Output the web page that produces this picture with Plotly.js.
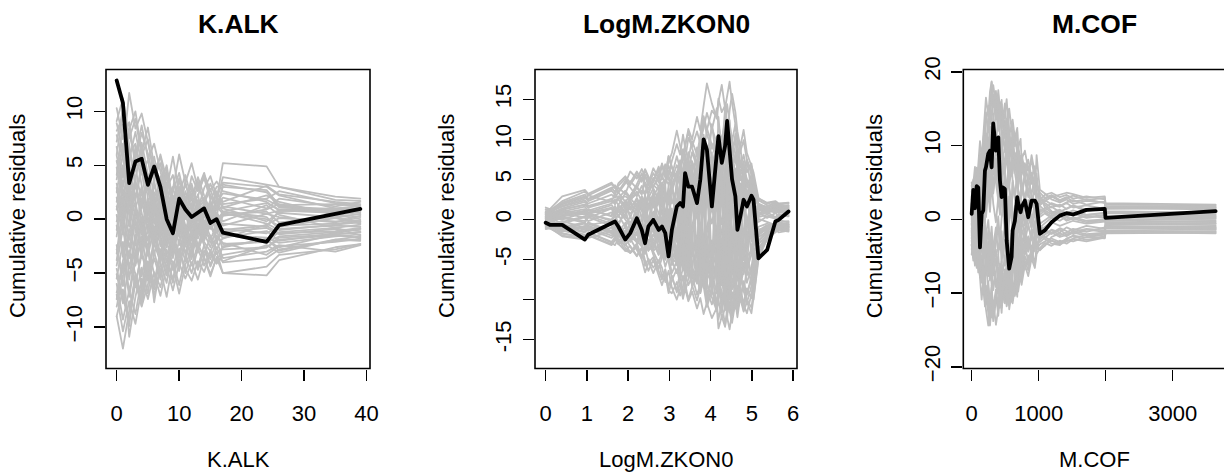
<!DOCTYPE html>
<html>
<head>
<meta charset="utf-8">
<script src="https://cdn.plot.ly/plotly-3.0.1.min.js"></script>
<style>
  html, body { margin: 0; padding: 0; background: #fff; }
  #chart { width: 1224px; height: 476px; }
  #chart path.js-line { stroke-linejoin: round !important; stroke-linecap: round !important; }
</style>
</head>
<body>
<div id="chart"></div>
<script>
// ---------- K.ALK ----------
const kalkX = [0,1,2,3,4,5,6,7,8,9,10,11,12,13,14,15,16,17,24,26,35,39];
const kalkObserved = [12.86,10.78,3.34,5.35,5.6,3.18,4.88,3.0,0.0,-1.3,1.9,0.9,0.2,0.6,1.0,-0.35,0.0,-1.25,-2.1,-0.54,0.5,0.95];
const kalkSimulated = [
  [8.2,9.5,6.1,7.0,4.2,5.5,2.1,3.0,0.8,2.2,0.5,1.8,3.1,1.2,2.0,0.6,1.5,2.4,1.8,1.2,0.9,0.7],
  [-5.1,-7.8,-4.2,-6.0,-3.3,-5.1,-2.2,-4.0,-1.5,-3.2,-0.8,-2.5,-1.0,-2.8,-1.4,-0.3,-1.9,-1.2,-0.8,-1.4,-0.9,-1.1],
  [2.5,6.1,11.7,8.4,9.8,7.2,4.5,5.8,2.9,4.1,1.2,3.5,0.7,2.3,-0.5,1.4,0.2,3.4,3.0,2.2,1.0,1.2],
  [-9.0,-12.0,-8.5,-5.2,-7.1,-3.9,-6.0,-2.8,-4.5,-1.7,-3.6,-1.0,-2.9,-0.4,-2.1,-3.0,-1.6,-2.2,-3.3,-2.5,-2.1,-1.8],
  [10.3,7.4,9.0,4.8,6.5,2.7,5.1,1.3,3.4,-0.6,1.9,-1.3,0.6,-0.8,1.7,0.1,-1.1,0.3,0.9,1.4,0.5,0.2],
  [0.4,-3.5,1.8,-2.4,2.9,-1.1,3.6,0.5,-2.2,1.3,-0.9,2.6,0.8,3.4,1.5,2.8,0.9,1.1,2.2,1.6,0.4,0.0],
  [-3.2,1.5,-5.6,-1.8,-6.4,-2.6,-7.7,-4.1,-5.9,-2.3,-4.8,-1.5,-3.7,-0.9,-2.4,-4.4,-3.0,-5.0,-5.2,-3.8,-2.6,-2.3],
  [6.7,3.9,8.3,10.0,6.2,8.5,4.9,3.2,5.0,1.6,3.8,0.4,2.2,-1.0,0.7,-0.6,1.2,0.5,0.0,-0.6,-0.4,-0.2],
  [-7.4,-4.0,-10.9,-7.2,-4.5,-6.9,-3.0,-5.3,-1.2,-3.6,0.2,-1.9,-3.2,-0.7,-1.8,0.4,-0.5,-1.4,-2.0,-1.2,-0.8,-1.5],
  [4.1,8.8,5.2,2.0,4.6,0.3,2.5,-1.8,0.9,-2.9,-0.4,-3.3,-1.5,-2.7,-0.2,-1.6,-3.2,-2.6,-1.8,-2.9,-1.9,-2.0],
  [-1.6,2.8,-0.7,3.3,0.6,-2.8,1.4,-1.6,2.7,5.8,2.4,4.1,1.9,3.9,2.2,0.8,2.5,1.6,3.1,2.3,1.6,1.4],
  [9.1,11.2,7.5,9.3,5.9,7.4,3.8,5.2,2.1,0.1,2.9,1.1,4.0,2.6,3.8,1.8,3.0,3.2,2.5,1.1,0.8,1.0],
  [-6.0,-9.3,-6.6,-8.8,-5.5,-7.4,-4.9,-6.3,-3.7,-5.9,-2.9,-4.6,-5.7,-3.9,-4.9,-3.2,-4.1,-3.3,-2.6,-1.9,-1.5,-1.7],
  [1.2,-1.4,4.5,1.7,5.3,2.6,0.1,-2.5,0.6,-1.4,1.6,-0.6,-2.0,0.5,-1.1,1.3,0.5,-0.6,0.5,0.2,-0.3,0.3],
  [5.4,2.3,0.5,3.8,-0.6,1.7,-1.9,2.0,-0.4,2.6,4.3,1.8,3.3,0.9,2.9,4.0,2.1,1.0,-0.2,0.6,0.2,0.5],
  [-4.3,-0.8,-3.6,0.9,-2.6,1.9,-1.2,2.4,0.7,-1.1,1.4,3.2,1.7,2.1,4.1,2.7,3.5,2.6,1.6,0.8,0.9,0.6],
  [7.8,5.6,2.7,5.9,8.7,5.6,7.0,4.4,1.9,3.0,0.6,2.1,-0.4,1.5,-1.5,-0.1,-2.2,-0.9,-1.3,-0.7,0.1,-0.4],
  [-2.4,-6.2,-2.9,-5.1,-8.0,-4.6,-6.5,-3.4,-2.0,-4.3,-6.9,-4.2,-2.8,-4.7,-2.9,-4.2,-2.6,-4.0,-3.6,-2.8,-2.0,-1.9],
  [3.3,0.2,-2.6,-0.2,-3.5,-0.9,2.2,-0.5,1.6,-1.8,0.4,-1.7,-0.3,1.8,0.4,-0.9,1.0,2.0,1.0,1.9,1.2,1.6],
  [-8.1,-5.2,-3.0,-6.3,-2.8,-5.7,-1.5,-3.9,-0.6,-2.5,-4.2,-2.0,-0.3,-2.4,-3.5,-1.5,-2.8,-1.7,-1.1,-2.0,-1.3,-0.9],
  [0.9,4.4,1.6,6.8,3.1,0.6,3.2,1.0,4.6,2.0,0.1,1.7,0.1,-1.2,0.9,-0.5,1.7,3.9,3.2,3.0,1.8,1.7],
  [-0.6,-2.9,-7.2,-3.7,-0.4,-3.0,0.8,-1.3,1.9,-0.1,2.5,0.0,1.5,-1.4,0.3,1.8,-0.2,0.7,0.2,-0.9,-0.6,-0.7],
  [6.0,9.8,6.9,3.6,7.1,4.3,1.2,4.0,1.0,-1.2,1.6,-1.0,0.9,-0.7,-2.0,-0.5,0.6,-0.2,1.3,0.4,-0.8,-0.5],
  [-3.8,0.4,3.4,0.0,-2.9,0.2,-3.3,-0.6,-3.4,-5.6,-2.7,-5.0,-3.0,-4.4,-2.4,-3.7,-2.0,-3.6,-3.0,-2.4,-3.0,-2.4],
  [2.0,-0.6,2.8,-1.2,1.5,3.9,0.9,3.2,0.3,2.8,6.0,3.4,5.2,2.8,4.3,2.2,1.1,3.0,2.7,1.3,1.4,1.2],
  [-5.5,-2.1,-6.8,-3.4,0.2,-2.0,1.3,-1.9,-4.0,-1.1,-3.5,-0.8,-2.5,0.2,-1.3,-2.6,-0.8,0.4,0.7,-0.3,0.2,-0.2],
  [4.8,1.4,5.5,8.1,5.0,2.0,-0.4,1.8,-1.1,0.7,-1.6,0.9,2.4,0.3,1.3,-0.7,-1.6,-2.3,-2.1,-1.6,-1.2,-0.9],
  [-1.0,3.6,0.4,-4.1,-1.6,-4.9,-2.3,0.4,-2.6,-0.8,1.0,-1.6,0.5,-1.8,-0.3,-2.2,-1.2,-0.4,-0.7,0.8,0.6,0.8],
  [8.9,6.3,3.2,1.0,3.0,0.1,-2.4,0.9,-1.9,1.2,-1.2,1.6,-0.9,0.8,-0.5,1.0,2.6,1.4,1.9,2.6,1.5,1.3],
  [-7.0,-10.4,-7.6,-9.7,-6.4,-4.0,-6.2,-3.1,-5.2,-2.1,-4.0,-2.3,-4.3,-2.3,-3.6,-5.3,-3.5,-3.9,-2.4,-3.1,-1.9,-1.6],
  [3.7,7.0,3.9,1.6,-1.4,1.0,-1.0,-3.2,-0.2,1.8,-0.6,1.2,-1.3,0.1,-1.5,-0.6,-1.7,-1.0,-0.6,-1.3,-1.1,-0.8],
  [-2.8,-5.0,-1.4,-4.3,-1.8,1.2,-1.6,1.5,-1.7,0.6,-1.5,-3.1,-1.4,-2.6,-0.6,0.3,-1.0,-2.8,-2.6,-1.7,-1.4,-1.2],
  [5.9,3.0,6.4,3.2,1.0,3.6,5.8,2.7,4.3,1.5,3.0,0.7,2.0,3.5,1.4,0.6,1.6,0.7,1.5,0.9,1.0,0.9],
  [-4.6,-7.3,-9.4,-5.9,-8.1,-6.0,-3.6,-5.6,-2.8,-4.7,-1.9,-3.9,-1.2,-3.1,-1.0,-1.9,-0.5,0.6,-0.4,-1.0,-0.5,-0.3],
  [1.6,5.0,2.2,4.9,1.4,3.4,0.3,2.3,-0.9,-2.6,-0.3,-2.2,0.4,-1.4,0.6,1.5,-0.6,-1.5,-1.7,-2.2,-1.6,-1.4],
  [-0.2,2.0,-1.9,1.0,-0.8,-3.4,-0.7,-3.6,-1.0,1.0,2.2,0.5,2.8,1.0,1.7,3.3,1.8,5.2,4.9,3.0,2.1,1.9],
  [7.2,10.2,7.9,5.6,8.0,6.1,3.5,6.0,3.7,1.4,3.6,1.6,-0.1,1.4,-0.3,0.8,-0.8,-1.8,-0.5,0.1,-0.2,-0.1],
  [-6.8,-3.7,-0.9,-3.0,-5.3,-2.4,-5.1,-7.1,-4.4,-6.6,-4.1,-5.5,-4.0,-5.6,-3.5,-5.1,-3.6,-5.0,-4.4,-3.3,-2.8,-2.3],
  [2.9,-0.9,-4.5,-1.7,1.9,-1.3,1.7,-1.0,2.9,0.4,-2.4,0.5,-1.6,0.9,-0.9,0.1,2.0,1.2,0.5,0.8,0.7,0.4],
  [-9.0,-6.5,-9.9,-5.0,-7.5,-4.8,-7.0,-4.6,-7.2,-3.9,-6.1,-3.4,-5.0,-2.7,-4.3,-2.9,-4.1,-2.5,-2.0,-2.6,-1.4,-1.2]
];
const kalkXTicks = [0,10,20,30,40];
const kalkYTicks = [-10,-5,0,5,10];

// ---------- LogM.ZKON0 ----------
const zkonX = [0,0.1,0.4,0.95,1.03,1.6,1.68,1.76,1.93,2.05,2.21,2.33,2.41,2.49,2.61,2.74,2.82,2.9,2.98,3.06,
  3.18,3.26,3.33,3.38,3.46,3.55,3.67,3.75,3.83,3.91,4.03,4.15,4.19,4.27,4.35,4.4,4.46,4.52,4.6,4.65,
  4.72,4.8,4.88,4.99,5.04,5.16,5.37,5.57,5.65,5.89];
const zkonObserved = [-0.4,-0.66,-0.66,-2.5,-1.9,-0.45,-0.25,-0.87,-2.5,-1.7,0.17,-1.3,-2.96,-0.87,-0.04,-1.3,-0.87,-1.7,-4.6,-1.3,
  1.63,2.05,1.63,5.8,4.1,4.1,2.05,5.0,10.0,8.7,1.63,8.3,10.4,7.07,9.15,12.3,7.9,5.0,2.9,-1.3,
  0.37,2.47,1.63,2.97,2.47,-4.84,-3.8,-0.25,-0.04,1.0];
const zkonSimulated = [
  [0.8,1.0,1.6,2.4,2.0,3.1,2.7,3.4,2.2,3.0, 4.1,3.3,4.6,3.8,5.2,4.0,5.5,4.4,6.1,5.0, 6.8,5.9,7.5,8.9,7.6,9.8,8.1,10.7,12.9,11.2, 13.6,12.8,15.1,13.4,14.2,12.0,11.5,9.8,8.2,6.1, 7.0,5.2,4.1,3.6,2.0,1.2,0.9,1.6,1.3,1.8],
  [-0.7,-0.9,-1.4,-2.0,-1.6,-2.8,-2.2,-3.0,-3.9,-3.3, -4.5,-3.6,-5.8,-4.9,-6.0,-5.1,-7.2,-6.3,-8.4,-7.0, -9.1,-8.0,-9.9,-8.6,-10.2,-9.0,-11.1,-9.8,-11.8,-10.4, -12.3,-11.0,-13.6,-12.1,-13.4,-11.7,-10.3,-11.6,-9.5,-10.9, -9.2,-10.4,-8.7,-9.8,-7.5,-3.6,-2.1,-1.3,-0.9,-0.6],
  [1.2,1.1,2.3,3.5,3.0,4.4,3.9,4.2,5.1,4.3, 5.6,4.7,6.2,5.0,4.1,5.3,3.8,4.9,6.7,5.5, 7.9,6.3,8.8,7.4,10.2,9.1,11.0,9.5,12.4,10.6, 8.9,10.3,8.1,9.6,7.2,8.5,6.4,7.7,5.9,6.8, 4.9,6.0,4.3,5.5,3.7,2.6,2.1,2.3,2.0,2.1],
  [-1.0,-1.1,-2.0,-2.4,-1.9,-3.1,-2.6,-1.8,-3.5,-4.2, -3.4,-5.0,-6.6,-5.4,-4.7,-6.3,-7.5,-6.2,-8.9,-9.2, -7.8,-9.5,-8.3,-6.9,-8.2,-7.0,-9.4,-8.1,-6.6,-8.0, -9.7,-11.4,-10.0,-12.3,-11.1,-9.6,-10.8,-12.0,-10.5,-11.2, -9.9,-11.5,-10.3,-11.7,-9.8,-4.6,-2.5,-1.6,-1.2,-0.8],
  [0.3,0.2,0.8,1.3,0.9,1.8,1.2,0.5,1.5,0.7, 2.0,1.1,-0.2,1.4,2.5,0.8,-0.6,1.2,-1.9,0.1, 2.3,0.4,3.1,1.6,-0.8,1.9,3.8,1.0,4.6,2.2, -0.5,2.8,5.1,3.0,6.3,3.9,1.4,4.0,0.6,2.7, -1.3,1.5,-0.2,2.2,0.4,0.9,0.2,0.8,0.5,0.9],
  [-0.3,-0.5,-0.6,-1.2,-0.7,-0.2,-1.0,-1.6,-0.4,-2.1, -1.0,-2.7,-1.4,-3.2,-2.0,-0.9,-2.8,-4.3,-2.6,-5.0, -3.4,-1.2,-4.1,-2.5,-5.6,-3.3,-6.8,-4.0,-7.5,-5.2, -2.6,-5.0,-7.9,-4.8,-8.6,-6.1,-3.3,-6.6,-4.0,-7.2, -5.1,-3.0,-6.2,-4.4,-2.7,-1.4,-0.7,-1.1,-0.6,-0.4],
  [0.6,0.7,1.2,1.9,1.5,2.6,2.0,2.9,1.6,2.4, 3.5,2.3,1.1,2.7,3.9,2.4,4.6,3.1,2.0,3.8, 5.5,4.2,6.3,7.8,6.0,8.4,6.5,9.6,7.7,11.4, 9.3,7.5,10.1,8.0,10.9,12.5,10.2,8.4,10.0,7.6, 5.8,7.1,4.9,3.3,4.4,1.6,1.4,1.9,1.5,1.3],
  [-0.5,-0.4,-1.0,-1.6,-1.2,-2.3,-1.7,-2.6,-3.2,-2.4, -3.8,-4.9,-3.9,-2.6,-4.0,-5.4,-4.1,-5.9,-4.6,-6.7, -5.2,-7.6,-6.0,-4.6,-6.3,-8.1,-6.7,-9.0,-7.1,-5.6, -7.9,-6.2,-8.8,-10.3,-7.6,-9.4,-11.6,-9.1,-10.7,-8.3, -10.1,-7.7,-9.4,-7.0,-8.6,-3.9,-1.8,-1.4,-1.0,-1.2],
  [1.5,1.3,2.9,3.7,3.2,4.6,4.0,3.3,4.5,6.0, 5.1,6.3,5.4,4.2,5.8,4.6,6.9,5.2,7.9,6.4, 5.0,6.7,4.8,6.2,8.4,6.9,5.3,7.6,5.8,8.8, 6.4,9.7,7.2,5.6,8.1,6.0,7.9,5.5,4.0,5.7, 3.6,5.2,3.1,4.6,2.9,1.8,1.6,2.2,1.8,1.5],
  [-1.1,-1.0,-2.1,-2.5,-2.0,-3.2,-2.5,-1.7,-3.0,-4.1, -3.1,-1.9,-3.6,-2.5,-4.4,-6.1,-4.8,-3.5,-5.3,-7.3, -8.8,-6.5,-9.7,-7.9,-10.0,-8.4,-7.0,-9.2,-7.4,-10.5, -8.5,-11.3,-9.1,-7.5,-9.8,-8.0,-6.4,-8.7,-6.9,-5.0, -7.3,-5.4,-7.9,-6.0,-4.2,-2.2,-1.5,-0.8,-0.5,-0.9],
  [0.1,0.3,0.4,0.7,1.2,0.5,1.6,0.9,2.4,1.5, 0.6,1.9,3.0,1.7,0.4,2.3,1.0,-0.5,1.3,-0.9, 0.8,-1.6,0.5,2.1,-0.3,2.6,0.6,-1.8,1.4,3.5, 1.0,4.4,2.0,-0.6,2.7,0.3,3.3,1.1,-1.5,1.3, -0.7,1.8,0.0,-2.2,0.6,-0.3,0.4,0.1,0.3,0.6],
  [-0.9,-0.8,-1.7,-2.3,-1.8,-1.0,-1.9,-2.8,-1.5,-0.6, -2.0,-0.8,-2.9,-1.5,-0.3,-2.2,-3.6,-1.9,-0.5,-2.8, -1.1,-3.5,-1.6,-0.2,-2.7,-4.3,-2.0,-5.1,-3.0,-0.9, -3.9,-1.5,-4.7,-2.4,-5.6,-3.1,-6.4,-3.8,-1.6,-4.3, -2.2,-4.8,-3.0,-1.1,-3.4,-1.7,-1.2,-0.6,-0.8,-1.0],
  [0.9,0.8,1.9,2.8,2.3,3.6,3.1,4.0,3.2,4.8, 3.9,5.3,4.3,3.3,4.7,6.2,5.0,6.8,5.6,7.3, 9.4,8.1,10.6,9.0,11.3,10.0,12.8,11.1,14.2,17.0, 14.5,12.6,14.7,16.8,13.9,15.5,17.2,14.6,11.8,10.2, 8.5,9.9,7.4,6.1,4.5,2.0,1.5,1.2,1.7,1.4],
  [-0.2,-0.3,0.2,-0.4,0.3,-0.8,-0.1,0.6,-0.9,0.4, -1.3,0.1,-2.0,-0.7,1.0,-0.5,-2.3,-1.0,0.8,-1.6, -3.9,-2.1,-4.8,-3.0,-1.0,-3.6,-5.7,-3.3,-6.5,-4.0, -6.8,-9.2,-7.0,-10.1,-8.0,-12.2,-13.7,-11.5,-9.0,-11.0, -8.4,-10.6,-11.7,-9.3,-10.0,-5.0,-2.3,-1.5,-1.1,-1.3],
  [0.4,0.5,1.0,1.6,1.1,2.0,2.5,1.8,3.3,2.6, 4.0,3.1,5.6,4.5,6.4,5.2,7.0,5.6,7.9,6.5, 4.7,6.2,3.8,5.4,7.5,5.8,4.1,6.3,8.9,6.9, 4.8,7.4,5.1,3.2,5.6,3.7,2.1,4.4,6.3,4.2, 2.8,4.6,3.0,5.0,3.4,1.9,1.0,1.4,1.1,0.8],
  [-0.6,-0.7,-1.3,-1.0,-0.5,-1.7,-1.1,-0.6,-2.0,-1.2, -2.6,-3.4,-2.1,-3.9,-2.9,-4.4,-3.2,-5.0,-3.7,-2.4, -4.1,-5.5,-3.6,-2.2,-4.0,-2.6,-4.5,-6.2,-4.1,-6.9, -5.0,-7.7,-9.6,-7.3,-10.2,-8.1,-11.4,-12.9,-10.3,-12.2, -9.6,-8.0,-10.0,-11.0,-9.1,-4.4,-2.0,-1.0,-0.7,-0.5],
  [1.3,1.2,2.0,2.9,2.5,3.8,4.3,3.5,4.8,4.0, 2.9,4.2,3.2,5.0,3.7,2.5,4.1,2.8,3.6,2.0, 3.7,2.1,4.6,6.9,5.1,7.3,5.4,3.6,6.0,4.3, 7.5,5.5,3.8,6.1,4.4,7.8,6.0,9.3,7.1,8.8, 6.5,8.1,5.9,7.0,5.3,2.4,1.8,1.5,1.9,2.0],
  [-0.4,-0.5,-0.3,0.4,0.8,-0.2,0.5,1.1,0.0,-0.9, 0.7,-1.0,-2.4,-1.1,-3.0,-4.2,-2.8,-1.3,-3.4,-5.1, -6.7,-4.8,-3.2,-5.5,-4.0,-6.5,-8.0,-6.1,-4.5,-2.8, -5.0,-3.1,-1.4,-3.7,-6.0,-4.2,-2.5,-5.3,-7.7,-5.6, -8.2,-6.4,-4.2,-6.9,-5.0,-2.7,-1.7,-1.3,-1.6,-1.4],
  [0.0,0.2,-0.5,0.3,-0.2,0.9,0.3,-0.4,0.7,1.6, 2.4,1.2,0.5,1.9,3.2,2.0,0.7,2.3,3.7,2.5, 1.0,3.4,5.1,3.3,1.8,4.6,2.9,5.7,8.0,6.2, 9.5,7.6,5.3,7.9,10.8,8.7,6.2,8.4,5.5,3.4, 5.7,3.8,1.9,3.9,2.2,0.5,0.9,0.3,0.7,0.5],
  [-1.2,-1.1,-1.8,-2.2,-1.6,-2.9,-3.2,-2.4,-3.9,-4.1, -3.0,-4.6,-3.5,-5.2,-6.7,-5.1,-6.0,-7.8,-6.4,-8.5, -10.0,-8.6,-7.0,-9.1,-7.4,-5.9,-7.8,-6.0,-8.3,-10.9, -8.9,-10.6,-12.5,-10.4,-13.2,-11.0,-9.0,-11.1,-11.0,-11.4, -9.5,-11.0,-9.2,-7.6,-6.4,-3.1,-1.9,-1.6,-1.3,-1.1],
  [0.7,0.6,1.4,2.2,1.7,2.5,1.9,2.7,3.6,2.8, 1.6,2.9,1.8,3.1,2.1,3.4,2.3,1.0,2.6,4.3, 6.0,4.4,2.7,4.9,6.6,4.7,3.0,1.3,3.5,5.4, 3.2,1.1,3.6,1.9,4.0,6.4,4.3,2.2,0.4,2.5, 0.9,2.9,4.5,2.6,0.9,0.6,1.2,1.6,1.2,1.1],
  [-0.1,0.0,-0.8,-1.5,-1.0,-2.0,-1.4,-0.6,-1.7,-2.6, -1.5,-3.0,-4.3,-3.1,-1.8,-3.3,-4.7,-3.3,-1.9,-0.4, -2.3,-0.6,1.1,-0.8,-2.6,-0.7,1.4,-0.5,-2.9,-0.9, 1.5,-1.2,-3.6,-1.4,0.9,-1.6,-4.1,-2.0,0.6,-1.9, -4.2,-2.3,-0.1,-2.7,-1.0,0.1,-0.3,-0.7,-0.4,-0.2],
  [0.5,0.4,0.9,0.2,0.8,1.5,0.6,1.4,2.2,1.2, 2.7,1.5,0.1,1.6,2.9,4.1,2.6,4.4,5.5,3.9, 2.2,4.0,5.9,7.3,5.4,3.7,5.8,8.4,10.3,8.0, 11.6,9.3,7.1,9.7,12.0,14.4,12.1,9.8,11.9,9.4, 7.2,5.3,7.5,5.6,3.9,1.4,1.1,1.8,1.4,1.0],
  [-0.8,-0.7,-1.5,-0.8,-0.4,-1.4,-2.0,-1.3,-2.5,-1.6, -0.5,-2.0,-0.9,0.4,-1.2,-2.8,-1.5,-0.1,-1.8,-3.6, -2.0,-0.3,-2.4,-4.2,-2.1,-4.6,-2.6,-0.7,-3.0,-5.3, -7.2,-5.1,-2.9,-5.4,-3.2,-5.8,-8.4,-6.0,-8.8,-6.3, -4.5,-6.8,-4.9,-7.1,-5.3,-2.0,-0.8,-0.5,-0.9,-1.3],
  [0.2,0.1,0.5,1.0,0.6,0.0,0.7,1.3,0.4,-0.4, 0.9,2.1,0.8,-0.3,-1.6,-0.2,1.1,-0.4,-1.9,-0.6, -2.5,-4.1,-2.6,-0.9,-2.8,-1.2,0.6,-1.5,-3.4,-5.6, -3.6,-6.3,-4.5,-7.1,-5.0,-2.6,-4.9,-7.4,-9.3,-6.8, -9.0,-11.3,-8.6,-9.8,-6.7,-1.9,-1.2,-0.4,-0.1,-0.3],
  [1.0,0.9,1.7,2.6,3.0,2.2,3.3,2.5,1.4,2.9, 4.4,5.8,4.5,3.2,4.8,6.6,5.3,6.9,5.1,3.4, 5.7,7.4,5.6,8.1,6.3,4.5,6.8,4.9,7.1,9.2, 7.0,4.7,7.3,5.2,3.0,5.5,7.6,5.3,3.1,5.0, 2.7,0.8,3.0,1.1,-0.6,1.0,1.7,2.0,1.6,1.7],
  [-0.6,-0.5,-1.2,-1.9,-2.3,-1.5,-2.4,-3.1,-2.2,-3.4, -4.6,-3.5,-5.1,-6.4,-5.0,-7.0,-8.2,-6.8,-9.2,-7.6, -6.2,-8.0,-9.5,-7.9,-6.3,-8.2,-10.1,-8.5,-6.7,-8.7, -10.6,-8.8,-6.9,-9.2,-11.3,-9.6,-7.3,-9.5,-11.0,-8.8, -6.6,-8.9,-10.4,-8.3,-6.1,-2.8,-1.3,-0.9,-1.3,-1.5],
  [0.9,1.0,2.1,3.1,2.6,4.0,3.4,4.5,5.4,4.6, 6.0,4.9,6.3,5.3,4.0,5.6,6.8,5.4,7.2,8.3, 11.1,9.2,7.4,9.4,11.0,8.9,7.0,9.6,11.5,13.3, 11.2,13.9,11.7,9.8,12.5,10.1,13.6,15.7,13.4,11.0, 9.1,11.2,8.3,6.6,5.9,2.7,2.0,2.2,1.8,1.6],
  [0.3,0.4,0.6,1.1,0.7,1.4,0.8,1.7,0.9,2.0, 1.1,2.4,1.3,2.8,1.5,3.2,1.6,3.6,1.9,4.1, 1.8,4.5,2.2,5.3,2.6,6.0,3.1,6.8,3.5,7.4, 3.9,8.0,4.4,8.6,4.7,8.2,4.1,7.5,3.6,6.7, 3.0,5.6,2.4,4.5,1.8,1.3,0.8,1.2,0.9,1.1],
  [-0.2,-0.3,-0.9,-0.4,-1.3,-0.6,-1.8,-0.9,-2.2,-1.1, -2.7,-1.2,-3.1,-1.5,-3.6,-1.8,-4.2,-2.0,-4.9,-2.4, -5.6,-2.9,-6.4,-3.3,-7.1,-3.6,-7.8,-4.0,-8.5,-4.6, -9.3,-5.0,-9.9,-5.4,-10.6,-5.9,-10.0,-5.2,-9.1,-4.6, -8.0,-3.9,-7.0,-3.1,-5.6,-1.8,-1.1,-0.7,-0.9,-0.6],
  [0.6,0.5,1.1,0.6,1.3,0.4,1.7,0.3,2.1,0.2, 2.6,0.0,3.0,-0.4,3.5,-0.8,4.0,-1.3,4.4,-1.9, 5.1,-2.4,5.8,-3.1,6.5,-3.7,7.2,-4.4,7.7,-5.0, 8.4,-5.6,7.6,-6.2,6.9,-5.4,6.0,-4.6,5.3,-3.8, 4.5,-3.0,3.7,-2.1,2.8,0.3,0.6,0.2,0.5,0.4],
  [-0.5,-0.6,-0.2,-1.0,-0.4,-1.5,-0.7,-2.0,-0.9,-2.6, -0.8,-3.0,-0.5,-3.5,-0.2,-4.0,0.3,-4.6,0.8,-5.2, 1.4,-5.9,2.0,-6.6,2.7,-7.3,3.3,-8.0,3.8,-8.6, 4.3,-9.0,3.6,-8.2,2.9,-7.5,2.1,-6.8,1.4,-6.0, 0.7,-5.1,0.0,-4.2,-0.6,-1.6,-0.9,-0.5,-0.7,-0.9],
  [0.1,0.0,0.3,-0.2,0.5,-0.5,0.9,-0.8,1.3,-1.1, 1.8,-1.4,2.2,-1.8,2.6,-2.2,3.3,-2.6,3.9,-3.1, 4.6,1.2,6.1,2.4,7.7,3.5,9.0,4.3,10.6,5.8, 11.9,7.0,12.8,8.2,13.9,9.3,12.4,8.0,10.7,6.6, 9.2,5.1,7.4,3.6,5.5,1.5,1.0,1.3,1.1,1.2],
  [-0.9,-1.0,-0.6,-1.3,-0.8,-1.7,-1.1,-2.2,-1.4,-2.8, -1.7,-3.3,-2.0,-3.9,-2.4,-4.4,-2.8,-5.0,-3.3,-5.7, -3.8,-6.5,-4.2,-7.4,-4.9,-8.3,-5.5,-9.1,-6.0,-10.0, -6.6,-10.9,-7.2,-11.6,-7.7,-12.4,-8.3,-11.2,-7.4,-10.1, -6.8,-9.0,-6.1,-7.8,-5.2,-2.6,-1.6,-1.2,-0.8,-1.0],
  [0.4,0.3,0.0,0.9,0.2,1.4,0.3,1.9,0.2,2.5, 0.0,2.9,-0.4,3.4,-0.9,3.8,-1.5,4.3,-2.1,4.9, -2.8,5.6,-3.5,6.3,-4.2,7.1,-4.8,7.8,-5.5,8.6, -6.1,9.3,-6.8,10.2,-7.4,10.9,-6.6,9.8,-5.7,8.6, -4.8,7.3,-3.9,5.9,-3.0,0.7,1.3,0.8,1.0,0.8],
  [-0.4,-0.3,-1.0,-0.5,-1.4,-0.6,-1.9,-0.8,-2.4,-0.9, -2.9,-0.6,-3.4,-0.2,-3.9,0.3,-4.4,0.8,-5.0,1.4, -5.7,2.0,-6.3,2.6,-7.0,3.3,-7.6,4.1,-8.4,4.8, -9.1,5.4,-9.8,6.1,-10.5,6.7,-9.4,5.8,-8.5,4.9, -7.4,4.0,-6.3,3.0,-5.2,-0.9,-0.5,-1.0,-0.6,-0.8],
  [0.7,0.8,1.3,1.8,1.5,2.3,2.0,2.6,2.9,2.5, 3.2,3.6,3.1,3.9,4.3,3.7,4.5,5.0,4.4,5.3, 5.8,5.1,6.2,6.7,5.9,6.6,7.3,6.4,7.1,7.8, 6.9,7.6,8.3,7.2,7.9,8.6,7.5,6.8,7.4,6.3, 5.6,6.2,5.0,4.3,3.6,1.7,1.3,1.0,1.4,1.2],
  [-0.3,-0.2,-0.7,-1.1,-0.9,-1.6,-1.3,-2.0,-2.4,-2.1, -2.8,-3.2,-2.7,-3.5,-3.9,-3.3,-4.1,-4.6,-4.0,-4.9, -5.4,-4.7,-5.8,-6.3,-5.5,-6.2,-6.9,-6.0,-6.7,-7.4, -6.5,-7.2,-7.9,-6.8,-7.5,-8.2,-7.1,-6.4,-7.0,-5.9, -5.2,-5.8,-4.6,-3.9,-3.2,-1.3,-0.9,-0.6,-1.1,-0.7]
];
const zkonXTicks = [0,1,2,3,4,5,6];
const zkonYTicks = [-15,-10,-5,0,5,10,15];
const zkonYLabels = ['-15','','-5','0','5','10','15'];

// ---------- M.COF ----------
const mcofX = [0,24,49,75,98,124,149,173,198,213,248,273,298,322,362,397,422,447,462,496,
  522,545,560,596,611,645,680,694,730,745,794,844,894,943,969,1018,1092,1192,1316,1416,
  1514,1713,1987,1997,3641];
const mcofObserved = [0.74,4.0,1.5,4.5,4.3,-3.8,0.74,1.2,6.6,7.05,8.9,9.3,7.05,13.0,9.3,11.1,5.25,3.0,4.34,4.1,
  -2.87,-6.5,-6.7,-5.1,-1.5,-0.2,3.0,2.2,0.96,1.64,2.54,0.28,2.54,2.54,2.1,-1.96,-1.5,-0.4,0.5,0.83,
  0.65,1.28,1.42,0.2,1.1];
const mcofSimulated = [
  [1.2,3.5,0.8,4.9,2.6,6.8,4.1,8.3,10.5,8.0, 12.7,14.9,18.6,15.2,17.4,13.8,15.9,12.3,14.6,11.0, 13.2,10.4,12.1,9.0,10.8,8.1,9.5,7.3,8.6,6.2, 7.4,5.1,6.3,4.2,3.5,2.4,2.8,3.1,2.5,2.9, 3.2,2.6,2.9,2.0,1.9],
  [-1.5,-3.8,-2.2,-5.6,-3.9,-7.8,-6.1,-9.6,-11.3,-9.0, -12.8,-14.4,-11.9,-13.5,-10.6,-12.2,-9.8,-11.5,-8.7,-10.3, -7.9,-9.6,-11.4,-8.8,-10.1,-7.5,-8.9,-6.6,-7.7,-5.4, -6.8,-4.9,-5.7,-3.6,-4.0,-3.4,-3.0,-2.6,-3.1,-2.7, -2.2,-2.5,-2.0,-1.6,-1.7],
  [2.9,5.2,3.6,7.0,5.5,8.9,6.7,10.8,12.6,14.5, 11.8,15.6,13.1,16.9,14.2,17.5,14.8,16.2,13.5,15.7, 12.4,14.0,11.3,12.8,10.1,11.6,8.8,10.2,7.5,8.4, 6.0,7.1,4.8,5.9,4.6,3.1,2.2,1.6,2.0,1.4, 1.8,1.1,1.5,0.9,1.0],
  [-0.8,1.6,-1.9,0.5,-3.1,-0.6,-4.4,-2.0,-5.3,-3.1, -6.8,-4.2,-7.9,-5.5,-9.2,-6.6,-8.3,-5.7,-7.4,-4.9, -6.3,-3.8,-5.1,-2.6,-4.4,-1.8,-3.3,-0.7,-2.5,-0.3, -1.9,0.4,-1.2,0.9,-0.5,-2.8,-2.1,-1.4,-1.8,-1.1, -1.5,-0.9,-1.3,-0.6,-0.8],
  [0.4,-2.0,1.1,-1.4,2.3,0.0,3.6,1.5,5.2,3.4, 6.9,4.6,8.4,6.1,9.8,7.3,10.6,8.0,11.7,9.1, 12.0,9.7,11.1,8.5,10.0,7.8,9.2,6.9,8.3,6.0, 7.6,5.3,8.7,6.1,4.9,3.6,2.9,3.3,2.6,3.0, 2.4,2.7,2.2,1.7,1.6],
  [-2.6,-0.3,-3.8,-1.6,-5.0,-2.9,-6.5,-4.2,-2.0,-5.1, -3.0,-6.4,-4.1,-7.6,-5.3,-8.8,-6.0,-9.7,-7.4,-10.9, -8.3,-11.6,-9.1,-11.2,-8.7,-10.4,-7.6,-9.0,-6.5,-7.9, -5.6,-6.9,-4.7,-5.8,-3.9,-4.2,-3.5,-2.9,-3.3,-2.8, -3.0,-2.4,-2.6,-1.9,-1.8],
  [3.8,1.4,4.6,2.0,5.9,3.1,7.2,5.0,8.6,6.4, 9.3,7.0,10.6,8.2,6.0,9.1,7.1,10.3,8.0,6.2, 8.9,6.6,4.4,7.2,5.3,3.1,6.0,4.1,2.3,4.7, 2.9,1.0,3.3,1.5,0.4,1.9,2.5,3.0,3.3,3.6, 3.4,2.9,3.1,2.2,2.0],
  [-3.4,-5.6,-2.9,-6.3,-4.0,-7.9,-5.7,-9.3,-7.1,-10.8, -8.4,-11.7,-9.2,-12.6,-10.0,-13.1,-10.5,-12.0,-9.6,-11.4, -8.8,-10.2,-7.5,-9.4,-11.0,-8.3,-10.5,-7.8,-5.9,-7.2, -5.0,-6.3,-4.1,-2.6,-3.8,-1.9,-2.4,-2.9,-3.4,-3.0, -2.6,-2.1,-2.3,-1.5,-1.4],
  [1.9,4.4,2.5,5.8,3.7,7.4,9.1,6.9,11.3,13.0, 15.4,12.9,16.6,18.2,15.5,16.9,14.1,15.6,12.7,14.2, 16.3,13.4,15.0,12.2,13.5,11.0,12.4,9.6,10.9,8.1, 9.3,6.8,7.9,5.6,6.2,1.8,1.2,0.7,1.1,0.5, 0.8,0.3,0.6,-0.1,0.2],
  [-1.9,0.7,-2.6,-0.8,-4.3,-1.9,0.8,-2.6,-0.4,-3.7, -1.5,-4.8,-2.3,-5.9,-3.4,-0.9,-4.1,-1.6,-5.2,-2.8, -6.0,-3.3,-7.1,-4.6,-2.0,-5.3,-2.7,-6.1,-3.5,-1.2, -3.0,-0.8,-2.6,-0.3,-1.7,-0.8,-1.4,-1.9,-1.2,-1.6, -2.0,-1.4,-1.7,-1.0,-1.2],
  [0.9,2.6,0.1,3.2,1.1,4.3,2.0,5.6,3.4,1.2, 4.6,2.3,5.8,3.5,6.9,4.2,1.8,5.1,2.9,6.4, 3.7,7.0,4.5,1.9,5.2,2.6,6.3,3.8,1.5,4.6, 2.1,5.4,3.0,0.8,2.4,0.6,1.2,1.7,1.0,1.5, 1.9,1.3,1.6,1.1,0.9],
  [-0.5,-2.3,0.3,-3.0,-1.2,-4.6,-2.8,-6.1,-8.3,-6.0, -9.2,-11.8,-9.0,-12.7,-10.3,-7.7,-10.6,-8.4,-11.3,-9.1, -11.8,-9.5,-12.2,-10.0,-11.4,-9.2,-7.0,-9.8,-7.4,-8.9, -6.2,-7.7,-5.3,-6.6,-4.7,-3.9,-3.2,-3.6,-2.9,-3.3, -2.7,-3.0,-2.5,-1.8,-1.6],
  [4.6,2.3,5.1,3.0,6.4,8.7,6.2,10.1,12.2,10.0, 13.6,11.2,9.0,12.5,10.3,13.9,11.4,8.9,12.0,9.8, 7.6,10.4,8.0,5.9,8.7,6.3,4.4,7.0,5.1,3.2, 5.6,3.5,6.1,4.0,2.5,0.3,0.8,0.2,0.5,-0.2, 0.1,-0.4,-0.1,-0.6,-0.5],
  [-4.1,-1.8,-4.9,-2.5,-6.1,-3.7,-7.5,-5.2,-8.9,-11.6, -9.4,-12.9,-10.7,-13.8,-11.1,-8.9,-12.0,-9.6,-7.3,-10.2, -7.9,-5.6,-8.4,-6.1,-3.8,-6.9,-4.5,-7.6,-5.2,-3.0, -4.8,-2.6,-4.0,-1.9,-3.5,-4.1,-3.6,-2.4,-1.9,-2.3, -1.8,-2.2,-1.9,-1.2,-1.3],
  [0.0,1.8,-0.9,2.4,0.6,3.9,1.6,-0.8,2.7,0.3, 3.8,1.0,4.9,2.1,-0.4,3.0,0.6,4.3,1.7,-1.1, 2.2,-0.6,3.1,0.4,-2.1,1.3,-1.2,2.0,-0.7,1.6, -0.9,1.8,-0.4,2.2,0.7,2.9,2.0,1.1,0.4,0.0, 0.3,-0.2,0.0,-0.4,-0.3],
  [2.2,-0.4,2.9,0.6,3.8,1.5,5.0,7.4,5.1,8.6, 11.1,8.8,13.2,10.9,14.7,12.0,15.3,13.0,10.6,13.4, 11.0,14.1,11.7,9.4,12.2,9.9,11.9,9.0,6.8,8.9, 6.4,8.1,5.7,7.2,4.9,3.3,1.6,0.9,1.3,0.8, 1.2,0.6,0.9,0.4,0.5],
  [-1.2,-3.5,-1.8,-4.6,-2.4,-5.5,-3.1,-1.0,-4.2,-1.9, -5.3,-2.7,-6.5,-3.6,-1.1,-4.8,-2.0,-5.9,-3.2,-0.7, -3.9,-1.4,-5.0,-2.5,-6.2,-3.9,-1.5,-4.5,-2.2,-5.0, -2.7,-4.4,-2.0,-3.6,-1.3,-2.2,-2.7,-3.3,-3.5,-2.6, -2.3,-2.8,-2.4,-1.7,-1.9],
  [3.1,5.4,2.7,6.2,4.2,7.8,5.6,9.5,7.0,5.0, 8.4,6.2,9.9,7.4,5.2,8.8,6.5,4.1,7.7,5.3, 3.0,6.4,4.1,1.9,5.0,2.8,0.6,3.9,1.7,-0.4, 2.5,0.3,3.2,1.1,-0.6,1.4,1.0,0.4,0.8,0.3, 0.0,0.5,0.2,-0.2,0.1],
  [-2.9,-5.2,-3.3,-6.6,-4.8,-8.5,-10.9,-8.2,-11.8,-9.6, -12.4,-10.1,-13.3,-11.0,-14.3,-12.1,-10.0,-12.7,-10.4,-8.1, -11.2,-8.9,-6.6,-9.8,-7.4,-5.1,-8.3,-6.0,-3.9,-6.8, -4.2,-2.3,-5.1,-3.0,-1.7,-0.9,-1.6,-2.0,-1.4,-2.1, -1.7,-1.3,-1.5,-0.9,-1.0],
  [0.6,3.1,1.0,4.1,6.0,3.7,7.3,5.4,8.8,11.3, 9.0,12.6,10.3,13.7,16.1,13.3,15.0,12.5,14.1,11.6, 13.6,10.7,8.3,11.0,8.9,6.4,9.3,7.1,4.8,7.6, 5.2,3.0,5.8,3.4,8.7,4.0,3.5,2.7,2.3,2.7, 2.1,2.5,2.3,1.4,1.5],
  [-3.6,-1.0,-4.4,-2.2,-5.4,-7.6,-5.0,-8.8,-6.6,-4.3, -7.7,-5.5,-9.0,-6.6,-4.1,-7.4,-9.9,-7.1,-10.5,-8.2, -6.0,-8.9,-6.6,-9.4,-7.2,-4.9,-7.7,-5.3,-8.1,-5.7, -3.3,-5.9,-3.9,-6.2,-4.2,-2.6,-2.0,-1.5,-2.2,-1.8, -1.3,-1.7,-1.1,-0.7,-0.6],
  [1.5,-0.7,2.2,-0.1,3.0,0.8,-1.3,1.9,-0.5,2.8, 5.1,2.7,6.3,3.9,7.8,5.2,8.4,6.1,9.5,7.0, 10.4,7.9,5.5,8.6,6.2,9.0,6.8,4.3,7.4,5.1, 2.8,5.5,3.3,6.0,3.7,2.1,2.6,2.0,1.7,2.2, 1.6,1.9,1.4,0.8,0.7],
  [-0.3,1.9,-1.3,1.0,-2.2,0.3,-3.2,-0.9,-4.5,-2.0, -0.1,-3.3,-1.0,-4.6,-2.2,0.4,-2.9,-0.5,2.0,-1.4, 1.2,-2.3,0.1,2.6,-0.8,1.8,-1.6,0.9,-2.2,0.3, -1.9,0.8,-1.1,1.5,-0.3,-1.1,-0.5,0.2,-0.2,0.4, 0.7,0.2,0.5,0.0,-0.1],
  [2.6,4.8,7.1,4.5,8.0,10.6,8.2,11.9,14.3,16.5, 14.0,17.3,18.7,16.0,13.6,16.4,13.9,11.5,14.3,12.0, 9.6,12.7,10.3,7.9,10.8,8.2,5.7,8.4,6.0,3.9, 6.1,3.8,1.6,4.5,2.3,2.6,3.3,3.6,3.0,3.3, 2.8,3.1,2.7,1.8,1.7],
  [-2.1,-4.4,-6.3,-4.1,-7.2,-5.0,-8.6,-6.4,-9.9,-12.2, -14.4,-12.9,-11.0,-12.0,-9.5,-11.8,-9.2,-11.6,-9.0,-6.8, -9.4,-7.0,-10.0,-7.6,-5.1,-8.0,-5.6,-3.3,-6.2,-4.0, -1.8,-4.3,-2.2,-0.6,-2.4,-1.6,-1.0,-0.4,-0.9,-0.5, -0.2,-0.6,-0.3,0.2,0.3],
  [0.2,-1.6,1.5,-0.6,2.5,4.8,2.9,6.2,4.0,1.7, 5.3,2.9,6.8,4.4,8.3,5.9,3.4,6.7,4.2,1.8, 5.0,2.4,-0.2,3.0,0.6,-1.9,1.3,-1.0,1.9,-0.4, 1.8,-0.7,-2.8,-0.5,1.1,-0.6,-0.1,0.5,0.9,0.6, 0.9,0.6,0.8,0.3,0.4],
  [-4.8,-2.4,-5.9,-3.5,-1.2,-4.3,-2.0,-5.8,-3.3,-7.0, -4.6,-8.3,-5.9,-9.6,-7.2,-4.8,-8.1,-5.6,-2.9,-6.3, -3.8,-7.0,-4.4,-1.9,-5.1,-2.6,-6.0,-3.4,-0.8,-3.7, -1.2,-3.9,-1.4,-4.3,-2.0,-3.1,-2.5,-1.8,-2.4,-2.1, -1.6,-2.0,-1.8,-1.2,-1.1],
  [5.0,2.6,5.7,3.3,6.9,4.5,2.1,5.3,7.9,5.6, 3.1,6.6,4.0,7.7,5.1,2.6,6.0,3.5,0.9,4.4, 1.8,-0.8,2.6,0.0,-2.6,0.8,-1.9,1.5,-0.9,2.2, -0.2,2.6,0.3,-1.8,0.6,1.0,1.5,2.2,1.8,2.3, 2.6,2.0,2.4,1.6,1.3]
];
const mcofXTicks = [0,1000,2000,3000];
const mcofXLabels = ['0','1000','','3000'];
const mcofYTicks = [-20,-10,0,10,20];

const panelTitles = ['K.ALK', 'LogM.ZKON0', 'M.COF'];
const yTitle = 'Cumulative residuals';

// ---------- layout geometry (pixels) ----------
const W = 1224, H = 476;
const boxTop = 69.5, boxBottom = 368.5;
const boxes = [[106, 370], [535, 797], [963.3, 1226]];
const px = v => v / W;
const py = v => 1 - v / H;

const FONT = 'Liberation Sans, Arial, Helvetica, sans-serif';
const GREY = '#bebebe';

const traces = [];
function addPanel(x, sims, observed, n) {
  const xa = n === 1 ? 'x' : 'x' + n;
  const ya = n === 1 ? 'y' : 'y' + n;
  sims.forEach(s => traces.push({
    type: 'scatter', mode: 'lines', x: x, y: s, xaxis: xa, yaxis: ya,
    line: { color: GREY, width: 1.8 }, hoverinfo: 'skip', showlegend: false
  }));
  traces.push({
    type: 'scatter', mode: 'lines', x: x, y: observed, xaxis: xa, yaxis: ya,
    line: { color: '#000', width: 3.8 }, hoverinfo: 'skip', showlegend: false
  });
}
addPanel(kalkX, kalkSimulated, kalkObserved, 1);
addPanel(zkonX, zkonSimulated, zkonObserved, 2);
addPanel(mcofX, mcofSimulated, mcofObserved, 3);

function axisBase(extra) {
  return Object.assign({
    showgrid: false, zeroline: false, showline: false,
    ticks: 'outside', ticklen: 11, tickwidth: 1.5, tickcolor: '#000',
    tickfont: { family: FONT, size: 22, color: '#000' },
    tickmode: 'array', fixedrange: true
  }, extra);
}
const xStandoff = 14, yStandoff = 3;
const yDomain = [py(boxBottom), py(boxTop)];

const layout = {
  width: W, height: H,
  margin: { l: 0, r: 0, t: 0, b: 0 },
  paper_bgcolor: '#fff', plot_bgcolor: 'rgba(0,0,0,0)',
  font: { family: FONT, color: '#000' },
  showlegend: false,
  xaxis: axisBase({ domain: [px(boxes[0][0]), px(boxes[0][1])], range: [-1.71, 40.55], anchor: 'y',
    tickvals: kalkXTicks, ticklabelstandoff: xStandoff }),
  yaxis: axisBase({ domain: yDomain, range: [-13.84, 13.88], anchor: 'x',
    tickvals: kalkYTicks, tickangle: -90, ticklabelstandoff: yStandoff }),
  xaxis2: axisBase({ domain: [px(boxes[1][0]), px(boxes[1][1])], range: [-0.26, 6.095], anchor: 'y2',
    tickvals: zkonXTicks, ticklabelstandoff: xStandoff }),
  yaxis2: axisBase({ domain: yDomain, range: [-18.6, 18.73], anchor: 'x2',
    tickvals: zkonYTicks, ticktext: zkonYLabels, tickangle: -90, ticklabelstandoff: yStandoff }),
  xaxis3: axisBase({ domain: [px(boxes[2][0]), 1], range: [-125, 3766], anchor: 'y3',
    tickvals: mcofXTicks, ticktext: mcofXLabels, ticklabelstandoff: xStandoff }),
  yaxis3: axisBase({ domain: yDomain, range: [-20.23, 20.31], anchor: 'x3',
    tickvals: mcofYTicks, tickangle: -90, ticklabelstandoff: yStandoff }),
  shapes: boxes.map(b => ({
    type: 'rect', xref: 'paper', yref: 'paper',
    x0: px(b[0]), x1: px(b[1]), y0: py(boxBottom), y1: py(boxTop),
    line: { color: '#000', width: 1.6 }, fillcolor: 'rgba(0,0,0,0)', layer: 'above'
  })),
  annotations: []
};

boxes.forEach((b, i) => {
  const cx = px((b[0] + b[1]) / 2);
  layout.annotations.push({
    xref: 'paper', yref: 'paper', x: cx, y: py(23.5), xanchor: 'center', yanchor: 'middle',
    text: '<b>' + panelTitles[i] + '</b>', showarrow: false,
    font: { family: FONT, size: 26.4, color: '#000' }
  });
  layout.annotations.push({
    xref: 'paper', yref: 'paper', x: cx, y: py(459), xanchor: 'center', yanchor: 'middle',
    text: panelTitles[i], showarrow: false,
    font: { family: FONT, size: 22, color: '#000' }
  });
  layout.annotations.push({
    xref: 'paper', yref: 'paper', x: px(b[0] - 88), y: py(216), xanchor: 'center', yanchor: 'middle',
    text: yTitle, textangle: -90, showarrow: false,
    font: { family: FONT, size: 22, color: '#000' }
  });
});

Plotly.newPlot('chart', traces, layout, { staticPlot: true, displayModeBar: false });
</script>
</body>
</html>
